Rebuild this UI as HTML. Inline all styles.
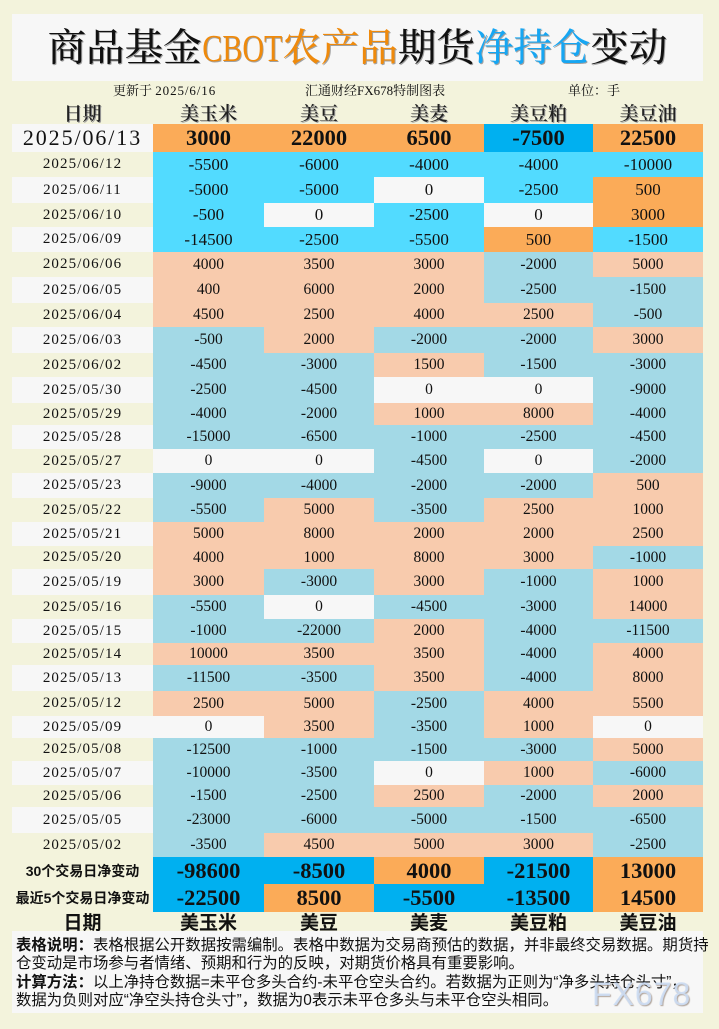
<!DOCTYPE html>
<html><head><meta charset="utf-8">
<style>
html,body{margin:0;padding:0}
body{width:719px;height:1029px;background:#f3f3dc;position:relative;overflow:hidden;font-family:"Liberation Serif","Noto Serif CJK SC",serif;color:#111}
.abs{position:absolute}
.row{position:absolute;left:12px;width:691px;display:flex}
.row>div{display:flex;align-items:center;justify-content:center;height:100%;white-space:nowrap}
.row>div:nth-child(1){width:141px}
.row>div:nth-child(2){width:111px}
.row>div:nth-child(3){width:110px}
.row>div:nth-child(4){width:110px}
.row>div:nth-child(5){width:109px}
.row>div:nth-child(6){width:110px}
.r1{font-size:17px}
.r2{font-size:15.5px}
.row>div.d{font-size:15px;letter-spacing:1.1px}
.g{background:#f7f7f7}
.a{background:#52dbff}
.o{background:#fbab58}
.z{background:#f7f7f7}
.s{background:#f8cbad}
.b{background:#a3d9e6}
.B{background:#00b0f0}
.big{font-size:22.5px;font-weight:bold}
.hdr{font-family:"Liberation Serif","Noto Serif CJK SC",serif;font-size:19px;font-weight:600;color:#222;text-shadow:1px 1px 0 #9a9a9a}
.ftr{font-family:"Liberation Sans","Noto Sans CJK SC",sans-serif;font-size:19px;font-weight:bold}
.lbl{font-family:"Liberation Sans","Noto Sans CJK SC",sans-serif;font-size:14px;font-weight:bold}
.sub{font-size:13px;line-height:17px;white-space:nowrap}
</style></head>
<body>
<div class="abs" style="left:12px;top:14px;width:691px;height:67px;background:#f7f7f7"></div>
<div class="abs" style="left:12px;top:16px;width:691px;height:67px;line-height:67px;text-align:center;font-size:38.5px;font-weight:500;white-space:nowrap;text-shadow:1px 1px 0 rgba(0,0,0,0.35)">商品基金<span style="display:inline-block;transform:scaleX(0.78);margin:0 -11px;color:#ef8a0c">CBOT</span><span style="color:#ef8a0c">农产品</span>期货<span style="color:#17a6f2">净持仓</span>变动</div>

<div class="abs sub" style="left:113px;top:82px">更新于 <span style="letter-spacing:0.9px">2025/6/16</span></div>
<div class="abs sub" style="left:305px;top:82px">汇通财经FX678特制图表</div>
<div class="abs sub" style="left:568px;top:82px">单位：手</div>

<div class="row hdr" style="top:100px;height:24px"><div>日期</div><div>美玉米</div><div>美豆</div><div>美麦</div><div>美豆粕</div><div>美豆油</div></div>

<div class="row big" style="top:124px;height:28px"><div class="g" style="font-weight:normal;font-size:22px;letter-spacing:1.9px">2025/06/13</div><div class="o">3000</div><div class="o">22000</div><div class="o">6500</div><div class="B">-7500</div><div class="o">22500</div></div>

<div class="row r1" style="top:152px;height:25px"><div class="d">2025/06/12</div><div class="a">-5500</div><div class="a">-6000</div><div class="a">-4000</div><div class="a">-4000</div><div class="a">-10000</div></div>
<div class="row r1" style="top:177px;height:26px"><div class="d g">2025/06/11</div><div class="a">-5000</div><div class="a">-5000</div><div class="z">0</div><div class="a">-2500</div><div class="o">500</div></div>
<div class="row r1" style="top:203px;height:24px"><div class="d">2025/06/10</div><div class="a">-500</div><div class="z">0</div><div class="a">-2500</div><div class="z">0</div><div class="o">3000</div></div>
<div class="row r1" style="top:227px;height:25px"><div class="d g">2025/06/09</div><div class="a">-14500</div><div class="a">-2500</div><div class="a">-5500</div><div class="o">500</div><div class="a">-1500</div></div>
<div class="row r2" style="top:252px;height:25px"><div class="d">2025/06/06</div><div class="s">4000</div><div class="s">3500</div><div class="s">3000</div><div class="b">-2000</div><div class="s">5000</div></div>
<div class="row r2" style="top:277px;height:26px"><div class="d g">2025/06/05</div><div class="s">400</div><div class="s">6000</div><div class="s">2000</div><div class="b">-2500</div><div class="b">-1500</div></div>
<div class="row r2" style="top:303px;height:24px"><div class="d">2025/06/04</div><div class="s">4500</div><div class="s">2500</div><div class="s">4000</div><div class="s">2500</div><div class="b">-500</div></div>
<div class="row r2" style="top:327px;height:26px"><div class="d g">2025/06/03</div><div class="b">-500</div><div class="s">2000</div><div class="b">-2000</div><div class="b">-2000</div><div class="s">3000</div></div>
<div class="row r2" style="top:353px;height:24px"><div class="d">2025/06/02</div><div class="b">-4500</div><div class="b">-3000</div><div class="s">1500</div><div class="b">-1500</div><div class="b">-3000</div></div>
<div class="row r2" style="top:377px;height:26px"><div class="d g">2025/05/30</div><div class="b">-2500</div><div class="b">-4500</div><div class="z">0</div><div class="z">0</div><div class="b">-9000</div></div>
<div class="row r2" style="top:403px;height:22px"><div class="d">2025/05/29</div><div class="b">-4000</div><div class="b">-2000</div><div class="s">1000</div><div class="s">8000</div><div class="b">-4000</div></div>
<div class="row r2" style="top:425px;height:24px"><div class="d g">2025/05/28</div><div class="b">-15000</div><div class="b">-6500</div><div class="b">-1000</div><div class="b">-2500</div><div class="b">-4500</div></div>
<div class="row r2" style="top:449px;height:24px"><div class="d">2025/05/27</div><div class="z">0</div><div class="z">0</div><div class="b">-4500</div><div class="z">0</div><div class="b">-2000</div></div>
<div class="row r2" style="top:473px;height:25px"><div class="d g">2025/05/23</div><div class="b">-9000</div><div class="b">-4000</div><div class="b">-2000</div><div class="b">-2000</div><div class="s">500</div></div>
<div class="row r2" style="top:498px;height:24px"><div class="d">2025/05/22</div><div class="b">-5500</div><div class="s">5000</div><div class="b">-3500</div><div class="s">2500</div><div class="s">1000</div></div>
<div class="row r2" style="top:522px;height:24px"><div class="d g">2025/05/21</div><div class="s">5000</div><div class="s">8000</div><div class="s">2000</div><div class="s">2000</div><div class="s">2500</div></div>
<div class="row r2" style="top:546px;height:23px"><div class="d">2025/05/20</div><div class="s">4000</div><div class="s">1000</div><div class="s">8000</div><div class="s">3000</div><div class="b">-1000</div></div>
<div class="row r2" style="top:569px;height:26px"><div class="d g">2025/05/19</div><div class="s">3000</div><div class="b">-3000</div><div class="s">3000</div><div class="b">-1000</div><div class="s">1000</div></div>
<div class="row r2" style="top:595px;height:24px"><div class="d">2025/05/16</div><div class="b">-5500</div><div class="z">0</div><div class="b">-4500</div><div class="b">-3000</div><div class="s">14000</div></div>
<div class="row r2" style="top:619px;height:24px"><div class="d g">2025/05/15</div><div class="b">-1000</div><div class="b">-22000</div><div class="s">2000</div><div class="b">-4000</div><div class="b">-11500</div></div>
<div class="row r2" style="top:643px;height:22px"><div class="d">2025/05/14</div><div class="s">10000</div><div class="s">3500</div><div class="s">3500</div><div class="b">-4000</div><div class="s">4000</div></div>
<div class="row r2" style="top:665px;height:26px"><div class="d g">2025/05/13</div><div class="b">-11500</div><div class="b">-3500</div><div class="s">3500</div><div class="b">-4000</div><div class="s">8000</div></div>
<div class="row r2" style="top:691px;height:25px"><div class="d">2025/05/12</div><div class="s">2500</div><div class="s">5000</div><div class="b">-2500</div><div class="s">4000</div><div class="s">5500</div></div>
<div class="row r2" style="top:716px;height:22px"><div class="d g">2025/05/09</div><div class="z">0</div><div class="s">3500</div><div class="b">-3500</div><div class="s">1000</div><div class="z">0</div></div>
<div class="row r2" style="top:738px;height:23px"><div class="d">2025/05/08</div><div class="b">-12500</div><div class="b">-1000</div><div class="b">-1500</div><div class="b">-3000</div><div class="s">5000</div></div>
<div class="row r2" style="top:761px;height:24px"><div class="d g">2025/05/07</div><div class="b">-10000</div><div class="b">-3500</div><div class="z">0</div><div class="s">1000</div><div class="b">-6000</div></div>
<div class="row r2" style="top:785px;height:22px"><div class="d">2025/05/06</div><div class="b">-1500</div><div class="b">-2500</div><div class="s">2500</div><div class="b">-2000</div><div class="s">2000</div></div>
<div class="row r2" style="top:807px;height:26px"><div class="d g">2025/05/05</div><div class="b">-23000</div><div class="b">-6000</div><div class="b">-5000</div><div class="b">-1500</div><div class="b">-6500</div></div>
<div class="row r2" style="top:833px;height:24px"><div class="d">2025/05/02</div><div class="b">-3500</div><div class="s">4500</div><div class="s">5000</div><div class="s">3000</div><div class="b">-2500</div></div>

<div class="row big" style="top:857px;height:27px"><div class="lbl">30个交易日净变动</div><div class="B">-98600</div><div class="B">-8500</div><div class="o">4000</div><div class="B">-21500</div><div class="o">13000</div></div>
<div class="row big" style="top:884px;height:28px"><div class="lbl">最近5个交易日净变动</div><div class="B">-22500</div><div class="o">8500</div><div class="B">-5500</div><div class="B">-13500</div><div class="o">14500</div></div>

<div class="row ftr" style="top:910px;height:22px"><div>日期</div><div>美玉米</div><div>美豆</div><div>美麦</div><div>美豆粕</div><div>美豆油</div></div>

<div class="abs" style="left:12px;top:931px;width:687px;height:76px;padding:6px 0 0 4px;background:#f7f7f7;font-family:'Liberation Sans','Noto Sans CJK SC',sans-serif;font-size:15.4px;line-height:18.3px;white-space:nowrap"><b>表格说明：</b>表格根据公开数据按需编制。表格中数据为交易商预估的数据，并非最终交易数据。期货持<br>仓变动是市场参与者情绪、预期和行为的反映，对期货价格具有重要影响。<br><b>计算方法：</b>以上净持仓数据=未平仓多头合约-未平仓空头合约。若数据为正则为“净多头持仓头寸”，<br>数据为负则对应“净空头持仓头寸”，数据为0表示未平仓多头与未平仓空头相同。</div>

<div class="abs" style="left:592px;top:978px;font-family:'Liberation Sans',sans-serif;font-size:32px;line-height:32px;letter-spacing:1px;color:rgba(205,222,245,0.9);text-shadow:1px 1px 1px rgba(130,110,95,0.6);white-space:nowrap">FX678</div>
</body></html>
